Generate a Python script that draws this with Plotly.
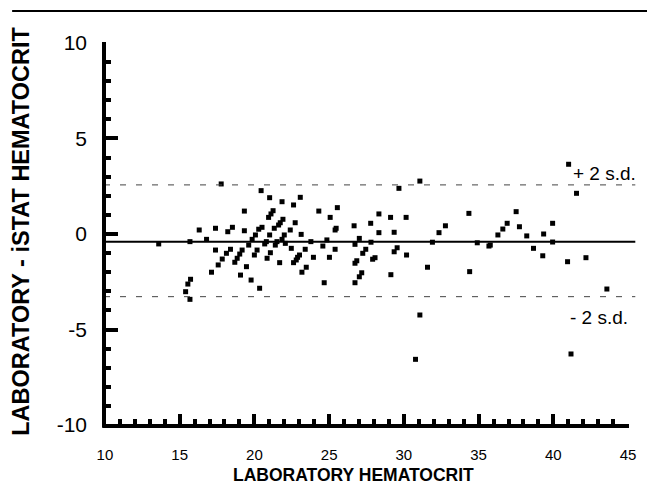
import plotly.graph_objects as go

# Bland-Altman data: laboratory hematocrit vs (laboratory - iSTAT) difference
lab_hct = [13.6, 15.69, 15.4, 15.55, 15.73, 15.69, 16.31, 16.8, 17.13, 17.4,
           17.4, 17.58, 17.78, 17.85, 18.22, 18.13, 18.4, 18.53, 18.69, 18.85,
           19.07, 19.02, 19.18, 19.33, 19.33, 19.47, 19.62, 19.78, 19.85, 20.0,
           20.07, 20.18, 20.29, 20.35, 20.45, 20.51, 20.69, 20.85, 20.8, 20.95,
           21.02, 21.02, 21.07, 21.11, 21.25, 21.33, 21.4, 21.51, 21.62, 21.69,
           21.73, 21.85, 21.85, 21.91, 22.0, 22.07, 22.4, 22.47, 22.62, 22.62,
           22.73, 22.8, 22.89, 23.07, 23.02, 23.13, 23.18, 23.4, 23.47, 23.78,
           23.95, 24.31, 24.58, 24.67, 24.85, 25.02, 25.07, 25.4, 25.47, 25.4,
           25.55, 26.67, 26.73, 26.73, 26.85, 26.73, 27.02, 27.02, 27.18, 27.25,
           27.45, 27.78, 27.8, 27.91, 28.07, 28.33, 28.33, 29.11, 29.13, 29.35,
           29.35, 29.55, 29.67, 30.15, 30.18, 31.07, 31.58, 31.91, 32.35, 32.78,
           34.35, 34.4, 34.91, 35.69, 35.78, 36.29, 31.07, 30.78, 36.62, 36.91,
           37.51, 37.73, 38.22, 38.67, 39.29, 39.35, 39.95, 39.95, 40.95, 41.02,
           41.55, 41.18, 42.18, 43.58]
diff_hct = [-0.52, -0.40, -3.02, -2.62, -2.37, -3.42, 0.21, -0.28, -2.0, 0.3,
            -0.84, -1.62, 2.62, -1.31, 0.12, -1.01, -0.80, 0.35, -1.48, -1.27,
            -2.15, -1.05, -0.84, 1.2, 0.17, -1.71, -0.58, -2.41, -0.28, -1.1,
            -0.05, -0.84, 0.25, -2.84, 2.27, 0.35, -0.52, -1.27, -0.4, 0.87,
            -0.05, 1.9, -0.98, 1.05, 1.22, 0.3, -0.58, -0.4, 0.47, -1.5,
            0.59, 1.69, -0.28, 0.77, -0.05, -0.49, 0.21, -0.75, -1.5, 1.52,
            0.59, -1.36, -1.22, 1.92, -1.1, -0.02, -2.0, -0.8, -1.74, -0.4,
            -1.22, 1.2, -0.63, -2.55, -0.31, -1.22, 0.87, 0.21, 0.3, -0.8,
            1.38, 0.43, -0.54, -1.53, -1.4, -2.55, -0.23, -2.24, -2.03, -1.01,
            -0.8, 0.56, -0.43, -1.32, -1.24, 1.05, 0.07, 0.87, -2.13, 0.09,
            -0.93, -0.72, 2.39, 0.87, -1.1, 2.77, -1.74, -0.43, 0.07, 0.43,
            1.08, -1.97, -0.46, -0.63, -0.58, -0.05, -4.24, -6.56, 0.26, 0.56,
            1.17, 0.38, -0.1, -0.75, -1.14, 0.0, 0.56, -0.42, -1.45, 3.65,
            2.13, -6.28, -1.24, -2.88]

mean_diff = -0.4
upper_sd = 2.57
lower_sd = -3.28

y_tick_vals = [-10, -5, 0, 5, 10]
y_tick_text = ["-10", "-5", "0", "5", "10"]
x_tick_vals = [10, 15, 20, 25, 30, 35, 40, 45]

FONT = "Liberation Sans, Arial, Helvetica, sans-serif"
BLACK = "black"

fig = go.Figure()
fig.add_trace(go.Scatter(
    x=lab_hct, y=diff_hct, mode="markers",
    marker=dict(symbol="square", size=5, color=BLACK, line=dict(width=0)),
    showlegend=False, hoverinfo="x+y"))

# mean and +/- 2 s.d. lines
fig.add_shape(type="line", xref="paper", x0=0, x1=1.012, yref="y",
              y0=mean_diff, y1=mean_diff, line=dict(color=BLACK, width=2))
for v in (upper_sd, lower_sd):
    fig.add_shape(type="line", xref="paper", x0=0, x1=1.012, yref="y",
                  y0=v, y1=v, line=dict(color="#444444", width=1, dash="6px,10px"))

# solid axis frame lines (left and bottom)
fig.add_shape(type="line", xref="paper", yref="paper", x0=0, x1=0,
              y0=-0.004, y1=1.0, line=dict(color=BLACK, width=4))
fig.add_shape(type="line", xref="paper", yref="paper", x0=-0.003, x1=1.0,
              y0=0, y1=0, line=dict(color=BLACK, width=4))

# top rule of the page
fig.add_shape(type="line", xref="paper", yref="paper", x0=-0.175, x1=1.04,
              y0=1.081, y1=1.081, line=dict(color=BLACK, width=2))

fig.add_annotation(x=41.2, y=3.19, xref="x", yref="y", text="+ 2 s.d.",
                   showarrow=False, xanchor="left", yanchor="middle",
                   font=dict(family=FONT, size=19, color=BLACK))
fig.add_annotation(x=41.0, y=-4.35, xref="x", yref="y", text="- 2 s.d.",
                   showarrow=False, xanchor="left", yanchor="middle",
                   font=dict(family=FONT, size=19, color=BLACK))

# axis titles
fig.add_annotation(x=0.476, y=-0.128, xref="paper", yref="paper",
                   text="<b>LABORATORY HEMATOCRIT</b>", showarrow=False,
                   xanchor="center", yanchor="middle", height=16,
                   font=dict(family=FONT, size=17.5, color=BLACK))
fig.add_annotation(x=-0.158, y=0.506, xref="paper", yref="paper",
                   text="<b>LABORATORY - iSTAT HEMATOCRIT</b>", showarrow=False,
                   textangle=-90, xanchor="center", yanchor="middle",
                   font=dict(family=FONT, size=23.5, color=BLACK))

axis_common = dict(showline=False, ticks="inside", tickwidth=4,
                   tickcolor=BLACK, showgrid=False, zeroline=False)

fig.update_xaxes(range=[9.94, 45.06], tickmode="array", tickvals=x_tick_vals,
                 ticklen=12,
                 minor=dict(ticks="inside", ticklen=7, tickwidth=4,
                            tickcolor=BLACK, dtick=1, showgrid=False),
                 ticklabelstandoff=18,
                 tickfont=dict(family=FONT, size=15, color=BLACK),
                 **axis_common)
fig.update_yaxes(range=[-10.05, 10.05], tickmode="array", tickvals=y_tick_vals,
                 ticktext=y_tick_text, ticklen=14,
                 minor=dict(ticks="inside", ticklen=7, tickwidth=4,
                            tickcolor=BLACK, dtick=1, showgrid=False),
                 ticklabelstandoff=16,
                 tickfont=dict(family=FONT, size=21, color=BLACK),
                 **axis_common)

fig.update_layout(width=647, height=486, autosize=False,
                  margin=dict(l=104, r=18, t=42, b=60),
                  plot_bgcolor="white", paper_bgcolor="white",
                  font=dict(family=FONT, color=BLACK))

fig.write_html("out.html")
